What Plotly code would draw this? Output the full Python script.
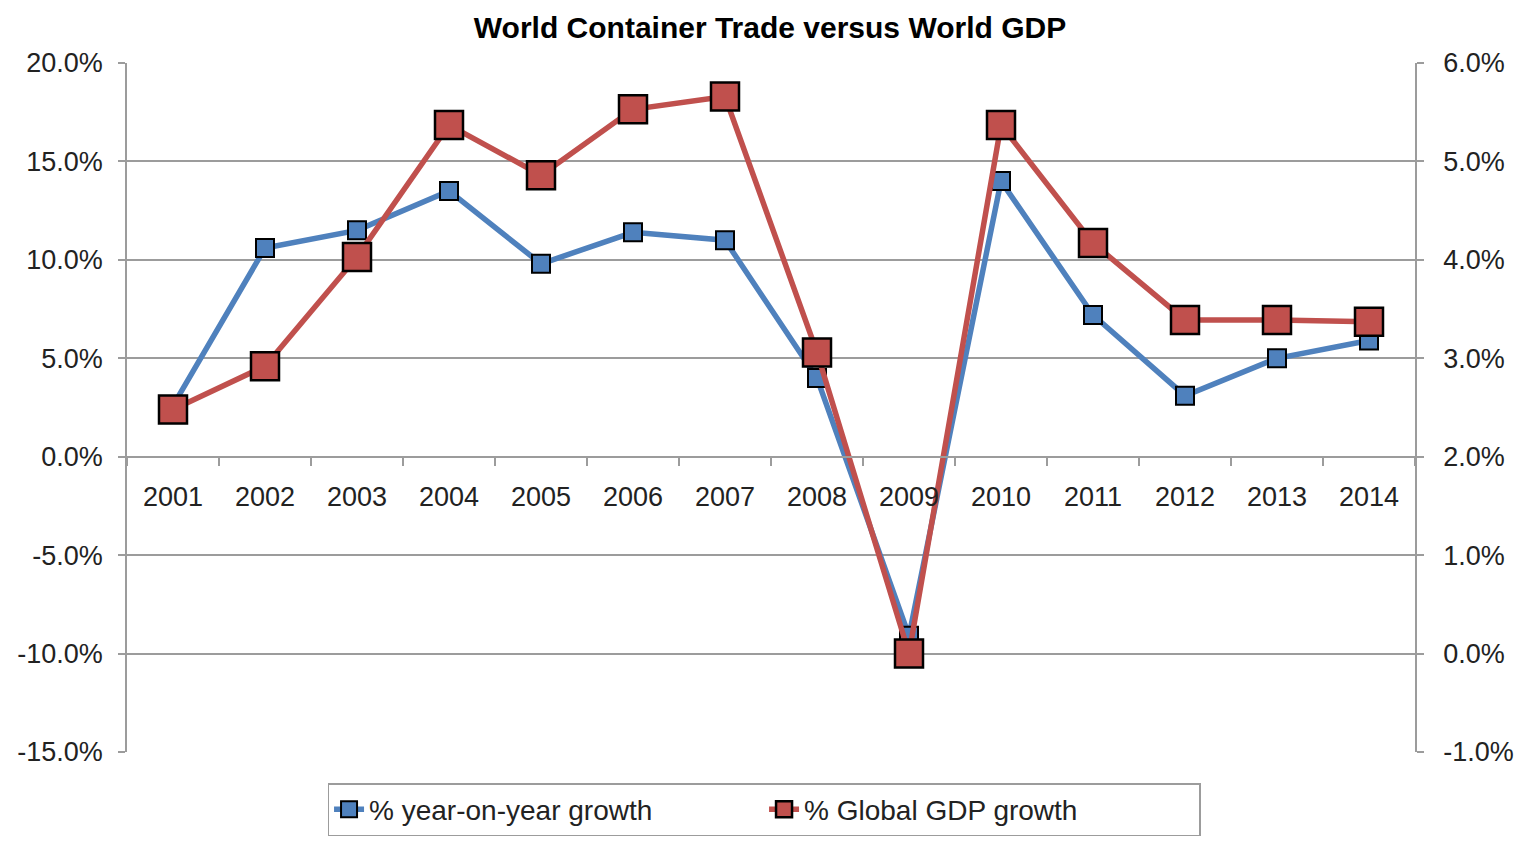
import plotly.graph_objects as go

years = ["2001", "2002", "2003", "2004", "2005", "2006", "2007",
         "2008", "2009", "2010", "2011", "2012", "2013", "2014"]
container_growth = [2.6, 10.6, 11.5, 13.5, 9.8, 11.4, 11.0,
                    4.0, -9.1, 14.0, 7.2, 3.1, 5.0, 5.9]
gdp_growth = [2.48, 2.92, 4.03, 5.37, 4.86, 5.53, 5.66,
              3.06, 0.0, 5.37, 4.17, 3.39, 3.39, 3.37]

left_ticks = [-15, -10, -5, 0, 5, 10, 15, 20]
right_ticks = [-1, 0, 1, 2, 3, 4, 5, 6]

BLUE = "#4F81BD"
RED = "#C0504D"
GRID = "#9c9c9c"
FONT = "Liberation Sans, Arial, sans-serif"

fig = go.Figure()
fig.add_trace(go.Scatter(
    x=years, y=container_growth, name="% year-on-year growth",
    mode="lines+markers",
    line=dict(color=BLUE, width=5.5),
    marker=dict(symbol="square", size=18, color=BLUE,
                line=dict(color="black", width=2)),
))
fig.add_trace(go.Scatter(
    x=years, y=gdp_growth, name="% Global GDP growth", yaxis="y2",
    mode="lines+markers",
    line=dict(color=RED, width=5.5),
    marker=dict(symbol="square", size=28, color=RED,
                line=dict(color="black", width=2.5)),
))

# page body adds an 8px offset, so margins are shifted to compensate
fig.update_layout(
    width=1524, height=844,
    margin=dict(l=119, r=117, t=55, b=100, autoexpand=False),
    paper_bgcolor="white", plot_bgcolor="white",
    font=dict(family=FONT, size=27, color="#222"),
    title=dict(text="<b>World Container Trade versus World GDP</b>",
               x=0.5, xanchor="center", y=0.977, yanchor="middle",
               font=dict(size=30, color="black")),
    xaxis=dict(
        type="category", range=[-0.5, 13.5],
        anchor="free", position=15 / 35,
        showline=True, linecolor=GRID, linewidth=1.5,
        ticks="outside", tickson="boundaries", ticklen=9,
        tickcolor=GRID, tickwidth=1.5,
        showgrid=False, ticklabelstandoff=16,
    ),
    yaxis=dict(
        range=[-15, 20],
        tickvals=left_ticks, ticktext=[f"{v:.1f}%" for v in left_ticks],
        showgrid=True, gridcolor=GRID, gridwidth=1.5,
        zeroline=False,
        showline=True, linecolor=GRID, linewidth=1.5,
        ticks="outside", ticklen=7, tickcolor=GRID, tickwidth=1.5,
        ticklabelstandoff=10,
    ),
    yaxis2=dict(
        range=[-1, 6],
        tickvals=right_ticks, ticktext=[f"{v:.1f}%" for v in right_ticks],
        overlaying="y", side="right", showgrid=False, zeroline=False,
        showline=True, linecolor=GRID, linewidth=1.5,
        ticks="outside", ticklen=7, tickcolor=GRID, tickwidth=1.5,
        ticklabelstandoff=14,
    ),
    legend=dict(
        orientation="h", x=0.4946, xanchor="center", y=-0.045, yanchor="top",
        bordercolor=GRID, borderwidth=1.5, bgcolor="white",
        font=dict(size=28, color="#222"), entrywidth=390,
    ),
    showlegend=True,
)

fig.write_html("out.html")
